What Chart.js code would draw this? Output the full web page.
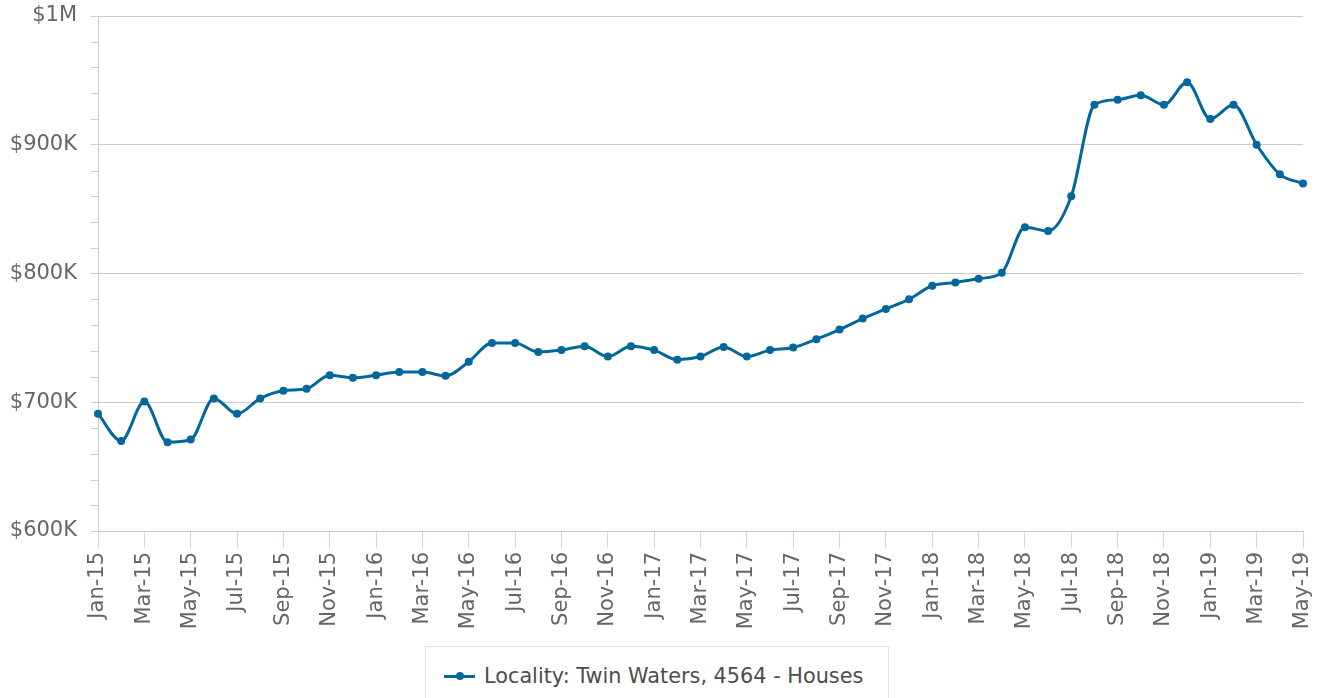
<!DOCTYPE html>
<html>
<head>
<meta charset="utf-8">
<title>Twin Waters, 4564 - Houses</title>
<script src="https://cdn.jsdelivr.net/npm/chart.js@4.4.0/dist/chart.umd.min.js"></script>
<style>
  html, body { margin: 0; padding: 0; background: #ffffff; }
  #wrap { position: relative; width: 1320px; height: 698px; overflow: hidden; }
  #chart { display: block; }
  #legend {
    position: absolute; left: 425px; top: 646px; width: 464px; height: 70px;
    box-sizing: border-box; border: 1px solid #e2e2e2; background: #fff;
    font-family: "DejaVu Sans", sans-serif; font-size: 20.8px; color: #4d4d4d;
  }
  #legend .item { position: absolute; left: 18px; top: 16px; height: 26px; display: flex; align-items: center; white-space: nowrap; }
  #legend .sym { position: relative; width: 31px; height: 3px; margin-right: 9px; }
  #legend .sym .ln { position: absolute; left: 0; top: 0; width: 31px; height: 3px; }
  #legend .sym .dot { position: absolute; left: 12px; top: -2.5px; width: 8px; height: 8px; border-radius: 50%; }
</style>
</head>
<body>
<div id="wrap">
  <canvas id="chart" width="1320" height="698"></canvas>
  <div id="legend"></div>
</div>
<script>
// Monthly median house price, Twin Waters 4564
const months = [
  'Jan-15','Feb-15','Mar-15','Apr-15','May-15','Jun-15','Jul-15','Aug-15','Sep-15','Oct-15','Nov-15','Dec-15',
  'Jan-16','Feb-16','Mar-16','Apr-16','May-16','Jun-16','Jul-16','Aug-16','Sep-16','Oct-16','Nov-16','Dec-16',
  'Jan-17','Feb-17','Mar-17','Apr-17','May-17','Jun-17','Jul-17','Aug-17','Sep-17','Oct-17','Nov-17','Dec-17',
  'Jan-18','Feb-18','Mar-18','Apr-18','May-18','Jun-18','Jul-18','Aug-18','Sep-18','Oct-18','Nov-18','Dec-18',
  'Jan-19','Feb-19','Mar-19','Apr-19','May-19'
];

const housePrices = [
  691000, 670000, 700500, 669000, 671000, 703000, 691000, 703000, 709000, 710500, 721000, 719000,
  721000, 723500, 723500, 720500, 731500, 746000, 746000, 739000, 740500, 743500, 735500, 743500,
  740500, 733000, 735500, 743000, 735500, 740500, 742500, 749000, 756500, 765000, 772500, 780000,
  790500, 793000, 796000, 800500, 836000, 833000, 860000, 931000, 935000, 938500, 931000, 948500,
  920000, 931000, 900000, 877000, 870000
];

const seriesLabel = 'Locality: Twin Waters, 4564 - Houses';
const yTickValues = [600000, 700000, 800000, 900000, 1000000];
const yTickLabels = ['$600K', '$700K', '$800K', '$900K', '$1M'];

const lineColor = '#04679b';
const axisFont = { family: 'DejaVu Sans', size: 21 };

// small unlabeled ticks on the value axis between the major gridlines
const minorTicks = {
  id: 'minorTicks',
  afterDraw(chart) {
    const y = chart.scales.y, ctx = chart.ctx;
    const step = (y.max - y.min) / 20;
    ctx.save();
    ctx.strokeStyle = '#cccccc';
    ctx.lineWidth = 1;
    for (let v = y.min + step; v < y.max; v += step) {
      if (Math.round((v - y.min) / step) % 5 === 0) continue;
      const py = Math.round(y.getPixelForValue(v)) + 0.5;
      ctx.beginPath();
      ctx.moveTo(y.right - 7, py);
      ctx.lineTo(y.right, py);
      ctx.stroke();
    }
    ctx.restore();
  }
};

const chart = new Chart(document.getElementById('chart'), {
  type: 'line',
  data: {
    labels: months,
    datasets: [{
      label: seriesLabel,
      data: housePrices,
      borderColor: lineColor,
      backgroundColor: lineColor,
      borderWidth: 3,
      pointRadius: 4,
      pointBorderWidth: 0,
      pointBackgroundColor: lineColor,
      cubicInterpolationMode: 'monotone',
      fill: false
    }]
  },
  options: {
    responsive: false,
    animation: false,
    devicePixelRatio: 1,
    layout: { padding: { top: 16, right: 17, left: 0, bottom: 0 } },
    plugins: {
      legend: { display: false },
      tooltip: { enabled: false }
    },
    scales: {
      x: {
        offset: false,
        ticks: {
          autoSkip: false,
          minRotation: 90,
          maxRotation: 90,
          color: '#666666',
          font: axisFont,
          padding: 4,
          callback: (v, i) => (i % 2 === 0 ? months[i] : '')
        },
        grid: {
          drawOnChartArea: false,
          drawTicks: true,
          tickLength: 17,
          lineWidth: 1,
          color: ctx => (ctx.index % 2 === 0 ? '#ccd6eb' : 'rgba(0,0,0,0)')
        },
        border: { display: true, color: '#cccccc', width: 1 },
        afterFit(scale) {
          scale.height = 167;
          scale.paddingLeft = 0;
          scale.paddingRight = 0;
        }
      },
      y: {
        min: yTickValues[0],
        max: yTickValues[yTickValues.length - 1],
        afterBuildTicks(scale) { scale.ticks = yTickValues.map(v => ({ value: v })); },
        ticks: {
          color: '#666666',
          font: axisFont,
          padding: 14,
          callback: (v) => yTickLabels[yTickValues.indexOf(v)]
        },
        grid: { color: '#cccccc', lineWidth: 1, tickLength: 7 },
        border: { display: true, color: '#cccccc', width: 1 },
        afterFit(scale) {
          scale.width = 98;
          scale.paddingTop = 0;
          scale.paddingBottom = 0;
        }
      }
    }
  },
  plugins: [minorTicks]
});

// legend box under the plot
(function buildLegend() {
  const ds = chart.data.datasets[0];
  const item = document.createElement('div');
  item.className = 'item';
  const sym = document.createElement('span');
  sym.className = 'sym';
  const ln = document.createElement('span');
  ln.className = 'ln';
  ln.style.background = ds.borderColor;
  const dot = document.createElement('span');
  dot.className = 'dot';
  dot.style.background = ds.borderColor;
  sym.appendChild(ln); sym.appendChild(dot);
  const txt = document.createElement('span');
  txt.textContent = ds.label;
  item.appendChild(sym); item.appendChild(txt);
  document.getElementById('legend').appendChild(item);
})();
</script>
</body>
</html>
